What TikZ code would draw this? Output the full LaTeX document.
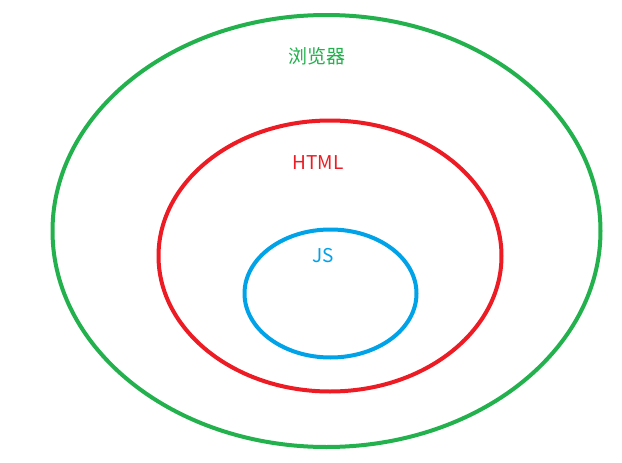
\documentclass[tikz,border=0pt]{standalone}
\usepackage{fontspec}
\setmainfont{Noto Sans CJK SC}
\definecolor{pgreen}{HTML}{22B14C}
\definecolor{pred}{HTML}{ED1C24}
\definecolor{pblue}{HTML}{00A2E8}
\begin{document}
\begin{tikzpicture}[x=1pt,y=-1pt,
  ring/.style={line width=4pt},
  lbl/.style={inner sep=0pt,font=\fontsize{19}{22}\selectfont}]
\useasboundingbox[fill=white] (0,0) rectangle (622,463);
\draw[ring,pgreen] (326.5,231) ellipse [x radius=274, y radius=216];
\draw[ring,pred] (330,256) ellipse [x radius=171.5, y radius=135.5];
\draw[ring,pblue] (330.5,293.5) ellipse [x radius=86, y radius=64];
\node[lbl,text=pgreen] (browser) at (317,56) {浏览器};
\node[lbl,text=pred] (html) at (318,163) {HTML};
\node[lbl,text=pblue] (js) at (323,256) {JS};
\end{tikzpicture}
\end{document}
